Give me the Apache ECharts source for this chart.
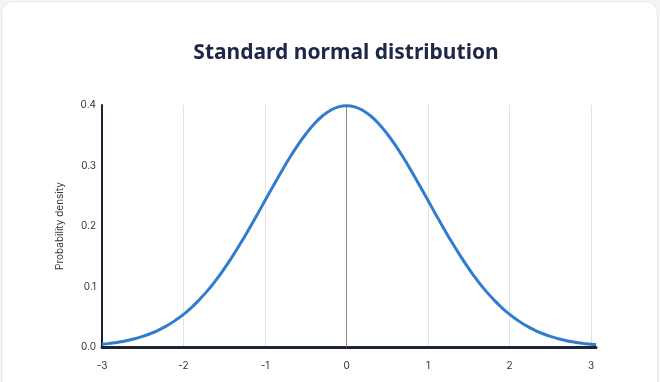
<!DOCTYPE html>
<html><head><meta charset="utf-8">
<script src="https://cdn.jsdelivr.net/npm/echarts@6/dist/echarts.min.js"></script>
<style>
html,body{margin:0;padding:0;background:#f4f5f7;width:660px;height:382px;overflow:hidden;}
#card{position:absolute;left:1px;top:1px;width:655px;height:400px;background:#fff;border:1px solid #e6e7ea;border-radius:12px;}
#c{position:absolute;left:0;top:0;width:660px;height:382px;}
</style></head>
<body><div id="card"></div><div id="c"></div>
<script>
const xValues = [-3.0,-2.9,-2.8,-2.7,-2.6,-2.5,-2.4,-2.3,-2.2,-2.1,-2.0,-1.9,-1.8,-1.7,-1.6,-1.5,-1.4,-1.3,-1.2,-1.1,-1.0,-0.9,-0.8,-0.7,-0.6,-0.5,-0.4,-0.3,-0.2,-0.1,0.0,0.1,0.2,0.3,0.4,0.5,0.6,0.7,0.8,0.9,1.0,1.1,1.2,1.3,1.4,1.5,1.6,1.7,1.8,1.9,2.0,2.1,2.2,2.3,2.4,2.5,2.6,2.7,2.8,2.9,3.0,3.06];
const density = [0.0044,0.0060,0.0079,0.0104,0.0136,0.0175,0.0224,0.0283,0.0355,0.0440,0.0540,0.0656,0.0790,0.0940,0.1109,0.1295,0.1497,0.1714,0.1942,0.2179,0.2420,0.2661,0.2897,0.3123,0.3332,0.3521,0.3683,0.3814,0.3910,0.3970,0.3989,0.3970,0.3910,0.3814,0.3683,0.3521,0.3332,0.3123,0.2897,0.2661,0.2420,0.2179,0.1942,0.1714,0.1497,0.1295,0.1109,0.0940,0.0790,0.0656,0.0540,0.0440,0.0355,0.0283,0.0224,0.0175,0.0136,0.0104,0.0079,0.0060,0.0044,0.0040];
const yTicks = [0, 0.1, 0.2, 0.3, 0.4];

const chart = echarts.init(document.getElementById('c'), null, {renderer:'canvas'});
chart.setOption({
  backgroundColor: 'transparent',
  animation: false,
  title: {
    text: 'Standard normal distribution',
    left: 341, top: 38, textAlign: 'center',
    textStyle: {fontFamily: 'Noto Sans', fontSize: 21, fontWeight: 'bold', color: '#1f2748'}
  },
  grid: {left: 102, right: 64, top: 105, bottom: 35},
  xAxis: {
    type: 'value', min: -3, max: 3.06, interval: 1,
    axisLine: {show: true, onZero: false, lineStyle: {color: '#1b2436', width: 3}},
    axisTick: {show: false},
    axisLabel: {color: '#333', fontSize: 10, fontFamily: 'Inter', margin: 14,
      formatter: v => (Math.abs(v - Math.round(v)) < 1e-6 ? String(Math.round(v)) : '')},
    splitLine: {show: true, showMaxLine: false, lineStyle: {color: '#e2e2e2', width: 1}}
  },
  yAxis: {
    type: 'value', min: 0, max: 0.4, interval: 0.1,
    name: 'Probability density', nameLocation: 'middle', nameGap: 37,
    nameTextStyle: {color: '#333', fontSize: 10, fontFamily: 'Inter'},
    axisLine: {show: true, onZero: false, lineStyle: {color: '#1b2436', width: 2}},
    axisTick: {show: false},
    axisLabel: {color: '#333', fontSize: 10, fontFamily: 'Inter', margin: 6,
      formatter: v => v.toFixed(1)},
    splitLine: {show: false}
  },
  series: [{
    type: 'line',
    data: xValues.map((x, i) => [x, density[i]]),
    smooth: true,
    showSymbol: false,
    lineStyle: {color: '#2f7dcc', width: 3},
    z: 3,
    markLine: {
      silent: true, symbol: 'none', label: {show: false},
      lineStyle: {color: '#8c8c8c', width: 1, type: 'solid', opacity: 1},
      emphasis: {disabled: true},
      data: [{xAxis: 0}],
      z: 1
    }
  }]
});
</script></body></html>
